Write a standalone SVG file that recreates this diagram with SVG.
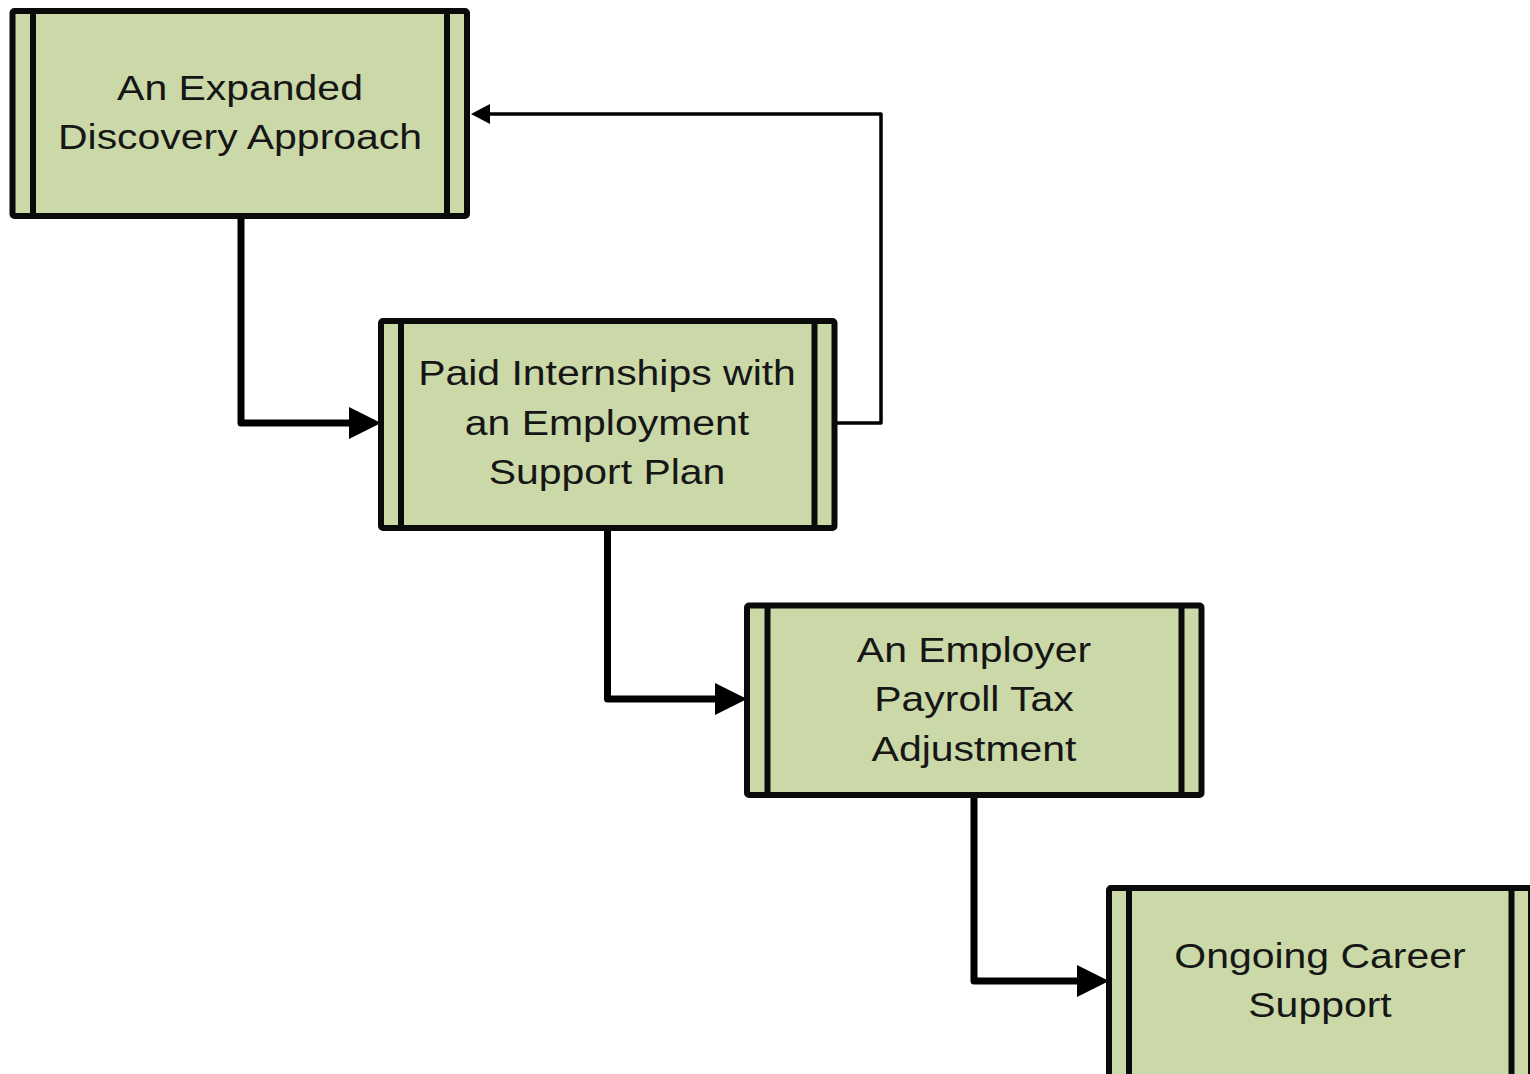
<svg xmlns="http://www.w3.org/2000/svg" width="1530" height="1074" viewBox="0 0 1530 1074">
  <style>
    .box { fill: #cbd9a8; stroke: #0a0a0a; stroke-width: 6; stroke-linejoin: round; }
    .bar { stroke: #0a0a0a; stroke-width: 6; fill: none; }
    .t { font-family: "Liberation Sans", Arial, sans-serif; font-size: 35px; fill: #161616; text-anchor: middle; }
    .conn { fill: none; stroke: #000; stroke-width: 7; stroke-linejoin: round; }
    .thin { fill: none; stroke: #000; stroke-width: 3.5; stroke-linejoin: round; }
  </style>
  <defs>
    <marker id="big" markerUnits="userSpaceOnUse" markerWidth="32" markerHeight="32" refX="12" refY="16" orient="auto" viewBox="0 0 32 32">
      <path d="M0,0 L32,16 L0,32 z" fill="#000"/>
    </marker>
    <marker id="small" markerUnits="userSpaceOnUse" markerWidth="19" markerHeight="20" refX="2" refY="10" orient="auto" viewBox="0 0 19 20">
      <path d="M0,0 L19,10 L0,20 z" fill="#000"/>
    </marker>
  </defs>
  <rect width="1530" height="1074" fill="#fff"/>

  <g id="connectors">
    <path class="conn" d="M241,216 V423 H361" marker-end="url(#big)"/>
    <path class="conn" d="M607.5,529 V699 H727" marker-end="url(#big)"/>
    <path class="conn" d="M974,795 V981 H1089" marker-end="url(#big)"/>
    <path class="thin" d="M834.5,423 H881 V114 H488" marker-end="url(#small)"/>
  </g>

  <g id="node1">
    <rect class="box" x="12.5" y="11" width="454.5" height="205" rx="2"/>
    <path class="bar" d="M33,11 V216 M447,11 V216"/>
    <text class="t" transform="translate(240 0) scale(1.17 1)"><tspan x="0" y="100">An Expanded</tspan><tspan x="0" y="149">Discovery Approach</tspan></text>
  </g>

  <g id="node2">
    <rect class="box" x="381" y="321" width="453.5" height="207" rx="2"/>
    <path class="bar" d="M401,321 V528 M814.5,321 V528"/>
    <text class="t" transform="translate(607 0) scale(1.17 1)"><tspan x="0" y="385">Paid Internships with</tspan><tspan x="0" y="435">an Employment</tspan><tspan x="0" y="484">Support Plan</tspan></text>
  </g>

  <g id="node3">
    <rect class="box" x="747" y="605.5" width="454.5" height="189.5" rx="2"/>
    <path class="bar" d="M767.5,605.5 V795 M1181.5,605.5 V795"/>
    <text class="t" transform="translate(974 0) scale(1.17 1)"><tspan x="0" y="662">An Employer</tspan><tspan x="0" y="711">Payroll Tax</tspan><tspan x="0" y="761">Adjustment</tspan></text>
  </g>

  <g id="node4">
    <rect class="box" x="1109" y="888" width="422" height="200" rx="2"/>
    <path class="bar" d="M1129,888 V1088 M1511.5,888 V1088"/>
    <text class="t" transform="translate(1320 0) scale(1.17 1)"><tspan x="0" y="968">Ongoing Career</tspan><tspan x="0" y="1017">Support</tspan></text>
  </g>
</svg>
